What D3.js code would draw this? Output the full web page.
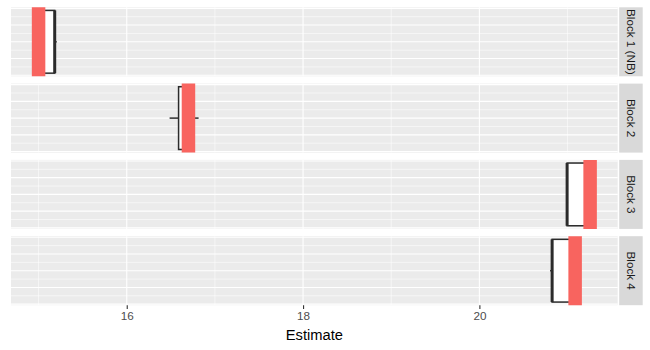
<!DOCTYPE html>
<html>
<head>
<meta charset="utf-8">
<script src="https://d3js.org/d3.v7.min.js"></script>
<style>
	html, body { margin: 0; padding: 0; background: #ffffff; }
	svg { display: block; font-family: "Liberation Sans", Arial, Helvetica, sans-serif; }
</style>
</head>
<body>
<div id="chart"></div>
<script>
// Data
const blocks = ['Block 1 (NB)', 'Block 2', 'Block 3', 'Block 4'];
const trueValue = [15.0, 16.70, 21.256, 21.086];
const whiskerLow = [15.06, 16.486, 20.995, 20.802];
const q1 = [15.06, 16.588, 20.995, 20.825];
const median = [15.183, 16.70, 20.995, 20.825];
const q3 = [15.183, 16.75, 21.20, 21.05];
const whiskerHigh = [15.206, 16.815, 21.20, 21.05];
const xMajor = [16, 18, 20];
const xMinor = [15, 17, 19, 21];
const yMajor = [-0.4, -0.2, 0, 0.2, 0.4];
const yMinor = [-0.3, -0.1, 0.1, 0.3];

const width = 650;
const height = 350;
const margin = { top: 7.3, right: 7.3, bottom: 44.8, left: 11 };
const stripWidth = 23.5;
const stripGap = 1.5;
const panelSpacing = 7.3;

const panelLeft = margin.left;
const panelRight = width - margin.right - stripWidth - stripGap;
const panelHeight = (height - margin.top - margin.bottom - panelSpacing * (blocks.length - 1)) / blocks.length;

// Combine the arrays into one row per facet
const rows = blocks.map((name, i) => ({
	'name': name,
	'truth': trueValue[i],
	'lo': whiskerLow[i],
	'q1': q1[i],
	'med': median[i],
	'q3': q3[i],
	'hi': whiskerHigh[i]
}));

// Scales (ggplot style 5% expansion)
const allValues = rows.flatMap(d => [d.truth, d.lo, d.q1, d.med, d.q3, d.hi]);
const xMin = d3.min(allValues);
const xMax = d3.max(allValues);
const xPad = (xMax - xMin) * 0.05;
const x = d3.scaleLinear()
	.domain([xMin - xPad, xMax + xPad])
	.range([panelLeft, panelRight]);

const y = d3.scaleLinear()
	.domain([-0.4125, 0.4125])
	.range([panelHeight, 0]);

const svg = d3.select('#chart').append('svg')
	.attr('width', width)
	.attr('height', height);

const panels = svg.selectAll('g.panel')
	.data(rows)
.join('g')
	.attr('class', 'panel')
	.attr('transform', (d, i) => 'translate(0,' + (margin.top + i * (panelHeight + panelSpacing)) + ')');

// Panel background
panels.append('rect')
	.attr('x', panelLeft)
	.attr('y', 0)
	.attr('width', panelRight - panelLeft)
	.attr('height', panelHeight)
	.attr('fill', '#EBEBEB');

// Grid lines: minor first, then major
panels.selectAll('line.hminor')
	.data(yMinor)
.join('line')
	.attr('x1', panelLeft).attr('x2', panelRight)
	.attr('y1', d => y(d)).attr('y2', d => y(d))
	.attr('stroke', '#ffffff').attr('stroke-width', 0.55);

panels.selectAll('line.vminor')
	.data(xMinor)
.join('line')
	.attr('x1', d => x(d)).attr('x2', d => x(d))
	.attr('y1', 0).attr('y2', panelHeight)
	.attr('stroke', '#ffffff').attr('stroke-width', 0.55);

panels.selectAll('line.hmajor')
	.data(yMajor)
.join('line')
	.attr('x1', panelLeft).attr('x2', panelRight)
	.attr('y1', d => y(d)).attr('y2', d => y(d))
	.attr('stroke', '#ffffff').attr('stroke-width', 1.1);

panels.selectAll('line.vmajor')
	.data(xMajor)
.join('line')
	.attr('x1', d => x(d)).attr('x2', d => x(d))
	.attr('y1', 0).attr('y2', panelHeight)
	.attr('stroke', '#ffffff').attr('stroke-width', 1.1);

// Boxplot
const boxColour = '#2b2b2b';
const boxTop = y(0.375);
const boxBottom = y(-0.375);

panels.append('line')
	.attr('x1', d => x(d.lo)).attr('x2', d => x(d.q1))
	.attr('y1', y(0)).attr('y2', y(0))
	.attr('stroke', boxColour).attr('stroke-width', 1.5);

panels.append('line')
	.attr('x1', d => x(d.q3)).attr('x2', d => x(d.hi))
	.attr('y1', y(0)).attr('y2', y(0))
	.attr('stroke', boxColour).attr('stroke-width', 1.5);

panels.append('rect')
	.attr('x', d => x(d.q1))
	.attr('y', boxTop)
	.attr('width', d => Math.max(0, x(d.q3) - x(d.q1)))
	.attr('height', boxBottom - boxTop)
	.attr('fill', '#ffffff')
	.attr('stroke', boxColour)
	.attr('stroke-width', 1.5);

panels.append('line')
	.attr('x1', d => x(d.med)).attr('x2', d => x(d.med))
	.attr('y1', boxTop).attr('y2', boxBottom)
	.attr('stroke', boxColour).attr('stroke-width', 3);

// Thick red reference line drawn over the box
panels.append('line')
	.attr('x1', d => x(d.truth)).attr('x2', d => x(d.truth))
	.attr('y1', 0).attr('y2', panelHeight)
	.attr('stroke', '#F8645F')
	.attr('stroke-width', 13.5);

// Strips on the right
const stripX = panelRight + stripGap;
panels.append('rect')
	.attr('x', stripX)
	.attr('y', 0)
	.attr('width', stripWidth)
	.attr('height', panelHeight)
	.attr('fill', '#D9D9D9');

panels.append('text')
	.attr('transform', 'translate(' + (stripX + stripWidth / 2) + ',' + (panelHeight / 2) + ') rotate(90)')
	.attr('text-anchor', 'middle')
	.attr('dy', '0.35em')
	.attr('fill', '#1A1A1A')
	.style('font-size', '11.7px')
	.text(d => d.name);

// Bottom axis
const axisY = margin.top + blocks.length * panelHeight + (blocks.length - 1) * panelSpacing;
const axis = svg.append('g')
	.attr('transform', 'translate(0,' + axisY + ')')
	.call(d3.axisBottom(x).tickValues(xMajor).tickSize(3.7).tickPadding(3).tickFormat(d3.format('d')));

axis.select('.domain').remove();
axis.selectAll('.tick line').attr('stroke', '#333333').attr('stroke-width', 1.1);
axis.selectAll('.tick text')
	.attr('fill', '#4D4D4D')
	.style('font-size', '11.7px')
	.style('font-family', '"Liberation Sans", Arial, sans-serif');

svg.append('text')
	.attr('x', (panelLeft + panelRight) / 2)
	.attr('y', height - 10)
	.attr('text-anchor', 'middle')
	.attr('fill', '#000000')
	.style('font-size', '14.7px')
	.text('Estimate');
</script>
</body>
</html>
